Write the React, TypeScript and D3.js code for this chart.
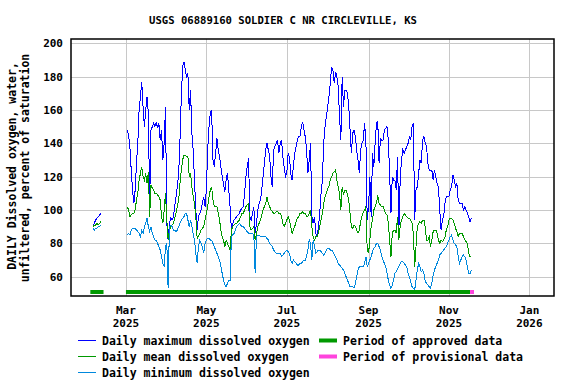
import React from "react";
import * as d3 from "d3";

const W = 576, H = 384;
const FONT = "'DejaVu Sans Mono', monospace";

// daily values, Feb 4 - Feb 10 2025
const febStart = Date.UTC(2025, 1, 4);
const febMax = [91, 92, 94, 95, 96, 97, 98];
const febMean = [90, 91, 91, 92, 91, 92, 93];
const febMin = [89, 88, 89, 89, 90, 90, 91];

// daily values, Mar 2 - Nov 18 2025
const mainStart = Date.UTC(2025, 2, 2);
const dailyMax = [
  148,145,138,124,112,104,112,128,140,160, 168,177,162,150,160,168,158,104,148,150,
  152,150,153,149,152,142,148,130,140,162, 92,82,92,95,94,96,102,108,114,122,
  142,168,186,189,184,180,182,160,172,146, 136,118,100,88,96,98,100,104,108,102,
  112,136,150,158,160,130,126,134,143,136, 132,126,120,116,111,118,122,112,102,88,
  92,94,95,96,97,98,100,101,102,110, 120,126,131,96,94,98,102,86,92,100,
  104,106,112,120,128,136,140,136,132,120, 114,136,138,140,142,134,140,142,132,126,
  120,122,134,132,122,118,126,134,138,142, 144,144,150,153,148,144,136,122,130,140,
  96,92,96,86,84,90,98,110,118,140, 150,156,162,168,176,186,184,176,183,180,
  174,156,142,180,162,172,172,170,162,148, 134,146,148,144,136,130,122,136,140,142,
  152,142,94,102,120,96,134,126,140,152, 153,128,143,142,142,148,149,150,142,122,
  98,120,118,118,112,132,88,118,130,136, 134,136,138,140,144,142,150,152,94,112,
  114,122,130,128,142,144,140,138,128,124, 124,124,118,124,120,116,114,100,88,94,
  96,104,108,108,108,112,114,121,118,114, 116,106,104,104,104,100,102,100,98,96,
  93,95,
];
const dailyMean = [
  102,100,96,97,98,98,100,106,110,118, 122,126,120,118,122,116,123,96,115,113,
  112,110,110,109,108,106,96,92,100,110, 94,82,88,90,91,92,95,98,102,106,
  116,124,130,133,133,132,132,120,122,114, 108,104,96,83,84,86,88,89,90,94,
  98,102,108,112,114,106,102,102,102,98, 94,88,84,82,78,82,80,78,76,88,
  90,91,92,92,93,94,96,98,98,100, 102,103,104,90,88,89,90,82,86,90,
  92,94,97,100,102,104,108,104,102,100, 99,98,98,99,99,98,98,96,92,90,
  92,94,96,94,90,86,88,90,93,95, 96,98,98,99,98,98,96,96,98,100,
  90,84,82,84,84,86,90,94,98,104, 108,110,113,114,118,120,122,123,124,118,
  114,110,100,114,109,112,112,109,106,98, 90,89,91,90,88,86,88,93,96,99,
  100,102,76,74,82,90,94,100,102,104, 109,104,103,102,102,100,98,97,92,82,
  72,86,88,88,86,96,82,90,94,96, 98,97,96,95,95,94,92,86,66,78,
  90,92,93,92,94,94,90,82,82,84, 78,82,87,88,88,86,82,80,82,81,
  82,84,88,90,94,95,95,94,92,89, 87,84,86,86,86,84,82,81,80,74,
  72,72,
];
const dailyMin = [
  85,86,85,88,89,89,89,88,87,86, 84,88,86,90,92,95,90,87,90,86,
  84,82,82,80,78,76,72,68,66,78, 80,53,90,91,90,88,88,87,88,90,
  92,94,95,96,98,98,94,90,94,90, 86,82,74,68,78,82,80,78,74,80,
  82,83,83,82,82,80,78,76,74,72, 70,66,62,58,55,54,56,58,58,84,
  85,86,88,90,91,92,91,90,90,89, 88,87,86,86,86,86,85,62,84,85,
  85,84,84,84,84,84,83,82,80,79, 78,76,75,74,74,74,74,72,73,74,
  75,76,75,74,70,68,70,69,68,67, 67,68,68,69,70,70,72,76,82,80,
  70,82,78,74,75,76,76,75,74,73, 74,76,77,77,76,76,75,73,72,70,
  68,67,66,65,64,62,60,58,56,54, 54,54,53,56,60,64,66,66,66,66,
  68,72,66,68,70,72,75,77,78,80, 80,78,76,72,70,68,66,62,58,55,
  53,55,58,62,63,65,66,68,69,69, 68,67,66,62,60,57,54,53,52,58,
  64,68,66,63,64,62,57,56,55,54, 53,56,61,64,66,68,70,73,74,75,
  76,77,78,80,82,84,85,82,80,79, 78,72,68,70,72,73,72,70,66,62,
  62,64,
];

const approved = [["2025-02-02", "2025-02-12"], ["2025-03-01", "2025-11-17"]];
const provisional = [["2025-11-17", "2025-11-20"]];

const yTicks = [60, 80, 100, 120, 140, 160, 180, 200];
const seriesNames = ["Daily maximum dissolved oxygen", "Daily mean dissolved oxygen", "Daily minimum dissolved oxygen"];
const seriesColors = ["#0000ff", "#009900", "#0088dd"];
const periodNames = ["Period of approved data", "Period of provisional data"];
const periodColors = ["#009900", "#ff44dd"];

const DAY = 86400000;
const toPts = (start: number, vals: number[]) => vals.map((v, i) => ({ t: new Date(start + i * DAY), v }));

const App = () => {
  const left = 71, right = 554, top = 39, bottom = 296;
  const x = d3.scaleUtc()
    .domain([new Date(Date.UTC(2025, 0, 18, 8)), new Date(Date.UTC(2026, 0, 19, 16))])
    .range([left, right]);
  const y = d3.scaleLinear().domain([48.4, 202.6]).range([bottom, top]);
  const line = d3.line<{ t: Date; v: number }>().x((d) => x(d.t)).y((d) => y(d.v));

  const series = [
    [toPts(febStart, febMax), toPts(mainStart, dailyMax)],
    [toPts(febStart, febMean), toPts(mainStart, dailyMean)],
    [toPts(febStart, febMin), toPts(mainStart, dailyMin)],
  ];
  const xTicks = x.ticks(d3.utcMonth.every(2));
  const fmtM = d3.utcFormat("%b"), fmtY = d3.utcFormat("%Y");
  const pd = (s: string) => new Date(s + "T00:00:00Z");

  return (
    <svg width={W} height={H} style={{ position: "absolute", left: 0, top: 0 }}
      fontFamily={FONT} fontWeight="bold" fontSize={11}>
      <rect width={W} height={H} fill="#fff" />
      <text x={283} y={24} textAnchor="middle" fontSize={10.6}>USGS 06889160 SOLDIER C NR CIRCLEVILLE, KS</text>

      {/* grid */}
      {yTicks.map((t) => (
        <line key={"gy" + t} x1={left} x2={right} y1={Math.round(y(t)) + 0.5} y2={Math.round(y(t)) + 0.5} stroke="#c8c8c8" />
      ))}
      {xTicks.map((t, i) => (
        <line key={"gx" + i} x1={Math.round(x(t)) + 0.5} x2={Math.round(x(t)) + 0.5} y1={top} y2={bottom} stroke="#c8c8c8" />
      ))}

      {/* data lines */}
      {series.map((segs, si) =>
        segs.map((pts, k) => (
          <path key={si + "-" + k} d={line(pts) || ""} fill="none" stroke={seriesColors[si]}
            strokeWidth={1} shapeRendering="crispEdges" />
        ))
      )}

      {/* period bars */}
      {approved.map(([a, b], i) => (
        <rect key={"ap" + i} x={x(pd(a))} y={290} width={x(pd(b)) - x(pd(a))} height={4} fill={periodColors[0]} />
      ))}
      {provisional.map(([a, b], i) => (
        <rect key={"pr" + i} x={x(pd(a))} y={290} width={x(pd(b)) - x(pd(a))} height={4} fill={periodColors[1]} />
      ))}

      <rect x={left} y={top} width={right - left} height={bottom - top} fill="none" stroke="#000" strokeWidth={1.5} />

      {/* y tick labels */}
      {yTicks.map((t) => (
        <text key={"ly" + t} x={63} y={y(t) + 4} textAnchor="end">{t}</text>
      ))}
      {/* x tick labels */}
      {xTicks.map((t, i) => (
        <g key={"lx" + i}>
          <text x={x(t)} y={314} textAnchor="middle">{fmtM(t)}</text>
          <text x={x(t)} y={327} textAnchor="middle">{fmtY(t)}</text>
        </g>
      ))}

      {/* y axis title */}
      <g fontSize={11.5}>
        <text transform="translate(16,166) rotate(-90)" textAnchor="middle">DAILY Dissolved oxygen, water,</text>
        <text transform="translate(29,168) rotate(-90)" textAnchor="middle">unfiltered, percent of saturation</text>
      </g>

      {/* legend */}
      <g fontSize={11.5}>
        {seriesNames.map((n, i) => (
          <g key={"lg" + i}>
            <line x1={78} x2={96} y1={340.5 + i * 16} y2={340.5 + i * 16} stroke={seriesColors[i]} />
            <text x={102} y={344.5 + i * 16}>{n}</text>
          </g>
        ))}
        {periodNames.map((n, i) => (
          <g key={"lp" + i}>
            <rect x={319} y={338.5 + i * 16} width={18} height={4} fill={periodColors[i]} />
            <text x={343} y={344.5 + i * 16}>{n}</text>
          </g>
        ))}
      </g>
    </svg>
  );
};

export default App;
